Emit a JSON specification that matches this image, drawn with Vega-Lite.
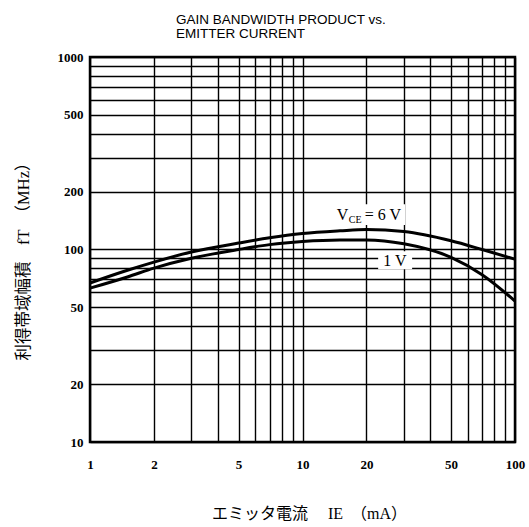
{
  "$schema": "https://vega.github.io/schema/vega-lite/v6.json",
  "autosize": {"type": "none"},
  "padding": {"left": 90, "top": 57, "right": 14, "bottom": 85},
  "width": 425,
  "height": 385,
  "background": "white",
  "config": {
    "view": {"stroke": "black", "strokeWidth": 2.5},
    "axis": {
      "grid": true, "gridColor": "black", "gridWidth": 1.4, "gridOpacity": 1,
      "ticks": false, "domain": false,
      "labelFont": "Liberation Serif", "labelFontSize": 13, "labelFontWeight": "bold", "labelColor": "black",
      "titleFont": "'Liberation Serif', 'Noto Sans CJK JP'", "titleFontWeight": "normal", "titleColor": "black"
    }
  },
  "title": {
    "text": ["GAIN BANDWIDTH PRODUCT vs.", "EMITTER CURRENT"],
    "anchor": "start", "frame": "group", "dx": 86, "offset": 11,
    "font": "Liberation Sans", "fontSize": 13.5, "fontWeight": "normal", "color": "black", "lineHeight": 14
  },
  "data": {
    "values": [
      {"I": 1, "fT": 67, "vce": "6V"}, {"I": 1.5, "fT": 78, "vce": "6V"}, {"I": 2, "fT": 86, "vce": "6V"},
      {"I": 3, "fT": 97, "vce": "6V"}, {"I": 5, "fT": 108, "vce": "6V"}, {"I": 7, "fT": 115, "vce": "6V"},
      {"I": 10, "fT": 121, "vce": "6V"}, {"I": 15, "fT": 125, "vce": "6V"}, {"I": 20, "fT": 127, "vce": "6V"},
      {"I": 30, "fT": 124, "vce": "6V"}, {"I": 50, "fT": 111, "vce": "6V"}, {"I": 70, "fT": 100, "vce": "6V"},
      {"I": 100, "fT": 89, "vce": "6V"},
      {"I": 1, "fT": 63, "vce": "1V"}, {"I": 1.5, "fT": 72, "vce": "1V"}, {"I": 2, "fT": 80, "vce": "1V"},
      {"I": 3, "fT": 90, "vce": "1V"}, {"I": 5, "fT": 100, "vce": "1V"}, {"I": 7, "fT": 106, "vce": "1V"},
      {"I": 10, "fT": 110, "vce": "1V"}, {"I": 15, "fT": 112, "vce": "1V"}, {"I": 20, "fT": 112, "vce": "1V"},
      {"I": 30, "fT": 107, "vce": "1V"}, {"I": 50, "fT": 91, "vce": "1V"}, {"I": 70, "fT": 74, "vce": "1V"},
      {"I": 100, "fT": 54, "vce": "1V"}
    ]
  },
  "encoding": {
    "x": {
      "field": "I", "type": "quantitative",
      "scale": {"type": "log", "domain": [1, 100], "nice": false},
      "axis": {
        "values": [1,2,3,4,5,6,7,8,9,10,20,30,40,50,60,70,80,90,100],
        "labelExpr": "indexof([1,2,5,10,20,50,100], datum.value) >= 0 ? datum.value + '' : ''",
        "labelPadding": 16, "labelFlush": false,
        "title": "エミッタ電流　 IE　（mA）", "titleFontSize": 16, "titlePadding": 34, "titleX": 219
      }
    },
    "y": {
      "field": "fT", "type": "quantitative",
      "scale": {"type": "log", "domain": [10, 1000], "nice": false},
      "axis": {
        "values": [10,20,30,40,50,60,70,80,90,100,200,300,400,500,600,700,800,900,1000],
        "labelExpr": "indexof([10,20,50,100,200,500,1000], datum.value) >= 0 ? datum.value + '' : ''",
        "labelPadding": 7, "labelFlush": false,
        "title": "利得帯域幅積　fT　（MHz）", "titleFontSize": 16.5, "titlePadding": 26, "titleY": 200
      }
    }
  },
  "layer": [
    {
      "data": {"values": [
        {"x1": 13.9, "x2": 30.4, "y1": 134, "y2": 172},
        {"x1": 22.7, "x2": 32.8, "y1": 79, "y2": 98}
      ]},
      "mark": {"type": "rect", "color": "white", "opacity": 1},
      "encoding": {
        "x": {"field": "x1", "type": "quantitative"},
        "x2": {"field": "x2"},
        "y": {"field": "y1", "type": "quantitative"},
        "y2": {"field": "y2"}
      }
    },
    {
      "mark": {"type": "line", "color": "black", "strokeWidth": 3, "interpolate": "monotone"},
      "encoding": {"detail": {"field": "vce"}}
    },
    {
      "data": {"values": [{"I": 27.2, "fT": 82, "label": "1 V"}]},
      "mark": {"type": "text", "font": "Liberation Serif", "fontSize": 16, "fontWeight": "normal", "align": "center", "baseline": "alphabetic", "color": "black"},
      "encoding": {"text": {"field": "label"}}
    },
    {
      "data": {"values": [{"I": 14.5, "fT": 142, "label": "V", "sub": "CE", "rest": "= 6 V"}]},
      "layer": [
        {
          "mark": {"type": "text", "font": "Liberation Serif", "fontSize": 16, "fontWeight": "normal", "align": "left", "baseline": "alphabetic", "color": "black"},
          "encoding": {"text": {"field": "label"}}
        },
        {
          "mark": {"type": "text", "font": "Liberation Serif", "fontSize": 10, "fontWeight": "normal", "align": "left", "baseline": "alphabetic", "dx": 12, "dy": 3, "color": "black"},
          "encoding": {"text": {"field": "sub"}}
        },
        {
          "mark": {"type": "text", "font": "Liberation Serif", "fontSize": 16, "fontWeight": "normal", "align": "left", "baseline": "alphabetic", "dx": 28, "color": "black"},
          "encoding": {"text": {"field": "rest"}}
        }
      ]
    }
  ]
}
